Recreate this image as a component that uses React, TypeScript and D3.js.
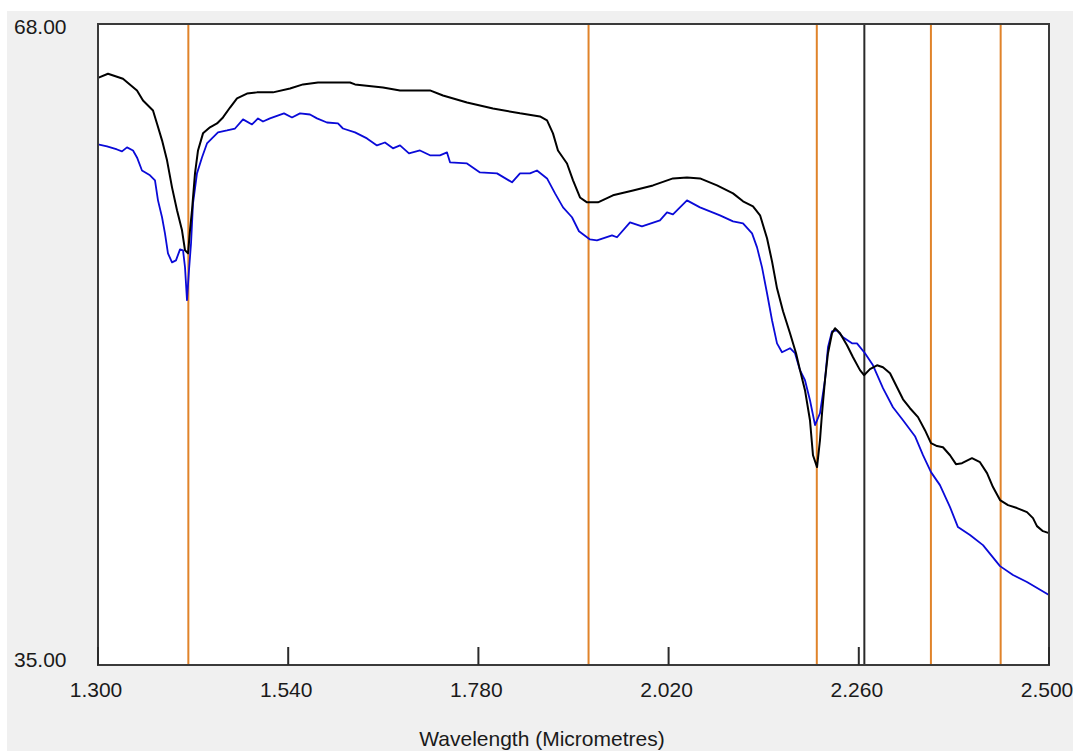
import React from "react";
import * as d3 from "d3";

// Reflectance spectra (wavelength in micrometres, reflectance in %)
const blackWavelengths = [
  1.3, 1.3126, 1.3315, 1.3492, 1.3568, 1.3694, 1.3744, 1.3808, 1.3871, 1.3934,
  1.3997, 1.406, 1.4098, 1.4136, 1.4161, 1.4186, 1.4224, 1.4262, 1.4325, 1.4413,
  1.4502, 1.4577, 1.4666, 1.4754, 1.488, 1.5006, 1.5208, 1.5423, 1.5587, 1.5776,
  1.618, 1.6243, 1.6596, 1.6811, 1.7189, 1.7353, 1.7656, 1.7984, 1.8325, 1.8577,
  1.8666, 1.8741, 1.8804, 1.8918, 1.8994, 1.9082, 1.917, 1.9309, 1.9498, 1.9751,
  2.0003, 2.0255, 2.0432, 2.0596, 2.0811, 2.1013, 2.1139, 2.1265, 2.1354, 2.1442,
  2.1505, 2.1568, 2.1644, 2.1732, 2.1808, 2.1858, 2.1921, 2.1984, 2.2022, 2.2073,
  2.211, 2.2136, 2.2173, 2.2211, 2.2262, 2.23, 2.2363, 2.2451, 2.2527, 2.2615,
  2.2666, 2.2741, 2.283, 2.2905, 2.2994, 2.3082, 2.3158, 2.3246, 2.3347, 2.3435,
  2.3511, 2.3587, 2.3662, 2.3751, 2.3826, 2.3902, 2.4028, 2.4129, 2.4218, 2.4293,
  2.4382, 2.4483, 2.4596, 2.4722, 2.4798, 2.4848, 2.4924, 2.5,
];
const blackReflectance = [
  65.23, 65.44, 65.18, 64.58, 64.06, 63.55, 62.88, 62.01, 60.98, 59.59,
  58.41, 57.38, 56.35, 56.19, 57.38, 58.41, 60.31, 61.49, 62.37, 62.68,
  62.88, 63.19, 63.7, 64.17, 64.42, 64.48, 64.48, 64.68, 64.89, 64.99,
  64.99, 64.89, 64.73, 64.58, 64.58, 64.32, 63.96, 63.65, 63.4, 63.24,
  63.04, 62.37, 61.49, 60.82, 59.95, 59.07, 58.82, 58.82, 59.18, 59.43,
  59.69, 60.05, 60.1, 60.05, 59.69, 59.28, 58.87, 58.61, 58.15, 56.97,
  55.78, 54.39, 53.21, 52.08, 51.05, 50.18, 49.15, 47.6, 45.8, 45.19,
  46.57, 47.96, 49.66, 51.05, 52.08, 52.34, 52.08, 51.46, 50.84, 50.18,
  49.92, 50.23, 50.43, 50.33, 50.02, 49.3, 48.68, 48.22, 47.76, 47.09,
  46.42, 46.27, 46.21, 45.8, 45.34, 45.39, 45.65, 45.44, 44.88, 44.16,
  43.49, 43.23, 43.08, 42.87, 42.56, 42.15, 41.89, 41.79,
];

const blueWavelengths = [
  1.3, 1.3114, 1.324, 1.3303, 1.3366, 1.3442, 1.3492, 1.3555, 1.3656, 1.3719,
  1.3757, 1.3808, 1.3845, 1.3883, 1.3934, 1.3984, 1.4035, 1.4073, 1.4098, 1.4123,
  1.4148, 1.4174, 1.4199, 1.4249, 1.4312, 1.4375, 1.4438, 1.4514, 1.4628, 1.4729,
  1.483, 1.4943, 1.5019, 1.5082, 1.517, 1.5347, 1.5448, 1.5549, 1.5675, 1.5763,
  1.5889, 1.6028, 1.6091, 1.6243, 1.6394, 1.652, 1.6621, 1.6722, 1.6811, 1.6924,
  1.7063, 1.7189, 1.7315, 1.7404, 1.7442, 1.7656, 1.782, 1.8035, 1.8224, 1.8325,
  1.8451, 1.8539, 1.8666, 1.8767, 1.8868, 1.8981, 1.9069, 1.9208, 1.9296, 1.9486,
  1.9549, 1.9713, 1.9864, 2.0091, 2.018, 2.0255, 2.0432, 2.0596, 2.0848, 2.1013,
  2.1139, 2.1253, 2.1316, 2.1379, 2.1442, 2.1505, 2.1568, 2.1631, 2.1732, 2.1795,
  2.1858, 2.1921, 2.1984, 2.2048, 2.211, 2.2173, 2.2211, 2.2262, 2.2325, 2.2401,
  2.2514, 2.2577, 2.2678, 2.2779, 2.2905, 2.3031, 2.3158, 2.3309, 2.341, 2.3511,
  2.3624, 2.3751, 2.3851, 2.4003, 2.4167, 2.4382, 2.4546, 2.4722, 2.5,
];
const blueReflectance = [
  61.8, 61.7, 61.54, 61.44, 61.65, 61.49, 61.13, 60.46, 60.21, 59.95,
  58.92, 58.05, 57.22, 56.19, 55.73, 55.83, 56.4, 56.35, 55.47, 53.78,
  55.32, 56.71, 58.77, 60.31, 61.13, 61.85, 62.11, 62.42, 62.52, 62.62,
  63.09, 62.83, 63.14, 62.98, 63.14, 63.4, 63.19, 63.4, 63.34, 63.14,
  62.93, 62.88, 62.62, 62.42, 62.11, 61.75, 61.9, 61.6, 61.75, 61.34,
  61.49, 61.24, 61.24, 61.39, 60.88, 60.82, 60.36, 60.31, 59.85, 60.31,
  60.31, 60.46, 60.05, 59.28, 58.56, 58.05, 57.33, 56.91, 56.86, 57.12,
  57.02, 57.79, 57.58, 57.89, 58.3, 58.2, 58.92, 58.56, 58.15, 57.84,
  57.74, 57.22, 56.5, 55.47, 54.14, 52.75, 51.56, 51.1, 51.31, 51.05,
  50.18, 49.66, 48.63, 47.35, 47.96, 49.66, 51.36, 52.18, 52.23, 51.87,
  51.56, 51.56, 51.05, 50.43, 49.25, 48.27, 47.6, 46.78, 45.8, 44.93,
  44.26, 43.13, 42.1, 41.69, 41.17, 40.09, 39.63, 39.27, 38.6,
];

// Band markers
const orangeMarkers = [1.414, 1.919, 2.207, 2.351, 2.439];
const cursorMarker = [2.267];

const xTicks = [1.3, 1.54, 1.78, 2.02, 2.26, 2.5];
const yTicks = [68, 35];
const xTitle = "Wavelength (Micrometres)";

const W = 1073;
const H = 751;
const plot = { left: 98, right: 1049, top: 24, bottom: 665 };
const FONT = "'Liberation Sans', Arial, sans-serif";

export default function App() {
  const x = d3.scaleLinear().domain([1.3, 2.5]).range([plot.left, plot.right]);
  const y = d3.scaleLinear().domain([35, 68]).range([plot.bottom, plot.top]);

  const line = d3
    .line<[number, number]>()
    .x((d) => x(d[0]))
    .y((d) => y(d[1]));

  const blackPts = blackWavelengths.map((w, i) => [w, blackReflectance[i]] as [number, number]);
  const bluePts = blueWavelengths.map((w, i) => [w, blueReflectance[i]] as [number, number]);

  return (
    <svg
      width={W}
      height={H}
      style={{ position: "absolute", left: 0, top: 0, display: "block" }}
    >
      <rect x={0} y={0} width={W} height={H} fill="#ffffff" />
      <rect x={7} y={11} width={W - 7} height={H - 11} fill="#f0f0f0" />
      <rect
        x={plot.left}
        y={plot.top}
        width={plot.right - plot.left}
        height={plot.bottom - plot.top}
        fill="#ffffff"
      />

      {orangeMarkers.map((m) => (
        <line
          key={`o${m}`}
          x1={x(m)}
          x2={x(m)}
          y1={plot.top}
          y2={plot.bottom}
          stroke="#e0832a"
          strokeWidth={2}
        />
      ))}
      {cursorMarker.map((m) => (
        <line
          key={`c${m}`}
          x1={x(m)}
          x2={x(m)}
          y1={plot.top}
          y2={plot.bottom}
          stroke="#2a2a2a"
          strokeWidth={2}
        />
      ))}

      <path d={line(bluePts) || ""} fill="none" stroke="#0a0ad8" strokeWidth={1.8} strokeLinejoin="round" />
      <path d={line(blackPts) || ""} fill="none" stroke="#000000" strokeWidth={2} strokeLinejoin="round" />

      {/* frame */}
      <rect
        x={plot.left}
        y={plot.top}
        width={plot.right - plot.left}
        height={plot.bottom - plot.top}
        fill="none"
        stroke="#3a3a3a"
        strokeWidth={2}
      />

      {/* x ticks */}
      {xTicks.map((t) => (
        <g key={`xt${t}`}>
          <line x1={x(t)} x2={x(t)} y1={plot.bottom} y2={plot.bottom - 18} stroke="#2a2a2a" strokeWidth={2} />
          <text
            x={x(t) - 2}
            y={697}
            textAnchor="middle"
            fontFamily={FONT}
            fontSize={21}
            fill="#1a1a1a"
          >
            {t.toFixed(3)}
          </text>
        </g>
      ))}

      {/* y ticks */}
      {yTicks.map((t) => (
        <text
          key={`yt${t}`}
          x={14}
          y={t === 68 ? 34 : 667}
          fontFamily={FONT}
          fontSize={21}
          fill="#1a1a1a"
        >
          {t.toFixed(2)}
        </text>
      ))}

      <text x={542} y={746} textAnchor="middle" fontFamily={FONT} fontSize={21} fill="#1a1a1a">
        {xTitle}
      </text>
    </svg>
  );
}
